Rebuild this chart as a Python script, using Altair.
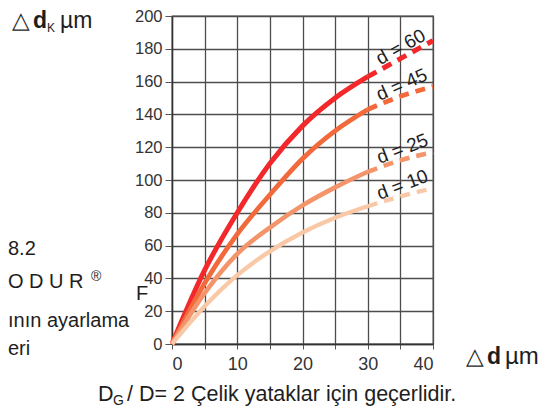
import altair as alt
import pandas as pd

# ---- data ----
x_vals = [0, 5, 10, 15, 20, 25, 30, 35, 40]
series_names = ["d = 60", "d = 45", "d = 25", "d = 10"]
d60 = [0, 45, 80, 110, 133, 150, 163, 174, 185]
d45 = [0, 37, 67, 91, 113, 130, 143, 151, 157]
d25 = [0, 31, 55, 71, 84.5, 95.5, 105, 112, 117]
d10 = [0, 23, 42, 56.5, 68, 77, 84, 90, 95]
x_ticks = [0, 5, 10, 15, 20, 25, 30, 35, 40]
y_ticks = [0, 20, 40, 60, 80, 100, 120, 140, 160, 180, 200]
solid_end = 30      # measured part (solid) ends here, extrapolation (dashed) after
label_at = 35       # curve labels sit above the curve at this x

# ---- styles ----
colors = ["#f2282a", "#f26a3c", "#f4946a", "#f9c8a6"]
widths = [5, 4.3, 4, 4]
label_angles = [331, 336, 339, 339]
FONT = "Liberation Sans"
INK = "#1e1e1e"
GRID = "#4d4d4d"

rows = []
for name, vals in zip(series_names, [d60, d45, d25, d10]):
    for xv, yv in zip(x_vals, vals):
        rows.append({"series": name, "x": xv, "y": yv})
df = pd.DataFrame(rows)

lab = pd.DataFrame({
    "series": series_names,
    "x": [label_at] * 4,
    "y": [v[x_vals.index(label_at)] for v in [d60, d45, d25, d10]],
    "angle": label_angles,
})

color = alt.Color("series:N", scale=alt.Scale(domain=series_names, range=colors), legend=None)
sw = alt.StrokeWidth("series:N", scale=alt.Scale(domain=series_names, range=widths), legend=None)

xenc = alt.X("x:Q", scale=alt.Scale(domain=[0, 40], nice=False),
             axis=alt.Axis(values=x_ticks, grid=True, gridColor=GRID, gridWidth=1.3,
                           labelExpr="datum.value % 10 == 0 ? datum.label : ''",
                           domainColor="#333", domainWidth=1.4, tickColor="#555", tickSize=5,
                           labelFontSize=18, labelColor="#333", labelFont=FONT,
                           labelPadding=6, title=None))
yenc = alt.Y("y:Q", scale=alt.Scale(domain=[0, 200], nice=False),
             axis=alt.Axis(values=y_ticks, grid=True, gridColor=GRID, gridWidth=1.3,
                           domainColor="#333", domainWidth=1.4, tickColor="#555", tickSize=7,
                           labelFontSize=16.5, labelColor="#333", labelFont=FONT,
                           labelPadding=3, title=None))

base = alt.Chart(df)
solid = base.transform_filter(alt.datum.x <= solid_end).mark_line(
    interpolate="monotone", strokeCap="butt").encode(x=xenc, y=yenc, color=color, strokeWidth=sw)
dashed = base.transform_filter(alt.datum.x >= solid_end).mark_line(
    interpolate="monotone", strokeDash=[10, 7], strokeCap="butt").encode(
    x=xenc, y=yenc, color=color, strokeWidth=sw)

labels = alt.Chart(lab).mark_text(font=FONT, fontSize=19, color=INK, dx=6, dy=-10,
                                  align="center", baseline="middle").encode(
    x=xenc, y=yenc, text="series:N", angle=alt.Angle("angle:Q", scale=None))


def note(t, x, y, size, weight="normal", color=INK, align="left"):
    return alt.Chart(pd.DataFrame({"t": [t]})).mark_text(
        font=FONT, fontSize=size, fontWeight=weight, color=color, align=align,
        baseline="alphabetic").encode(x=alt.value(x), y=alt.value(y), text="t:N")


# positions relative to the plot origin
notes = [
    # y-axis title: Δd_K µm
    note("△", -160, 12, 23),
    note("d", -139, 12, 23, "bold"),
    note("K", -125, 16, 12),
    note("µm", -112, 12, 23),
    # x-axis title: Δd µm
    note("△", 294, 348, 23),
    note("d", 315, 348, 23, "bold"),
    note("µm", 333, 348, 24),
    # caption
    note("D", -74, 385, 21.5),
    note("G", -59, 389, 14),
    note("/ D= 2 Çelik yataklar için geçerlidir.", -45, 385, 21.5),
    # text from the page beside the chart
    note("8.2", -164, 239, 20),
    note("O D U R", -164, 272, 20),
    note("®", -81, 265, 14),
    note("F", -36, 284, 20),
    note("ının ayarlama", -164, 311, 20),
    note("eri", -164, 339, 20),
]

chart = alt.layer(solid, dashed, labels, *notes).properties(
    width=261, height=328,
    autosize=alt.AutoSizeParams(type="none"),
    padding={"left": 164, "top": 8, "right": 109, "bottom": 63},
).configure_view(stroke=GRID, strokeWidth=1.3)

chart.save("out.html", embed_options={"renderer": "svg", "actions": False})
